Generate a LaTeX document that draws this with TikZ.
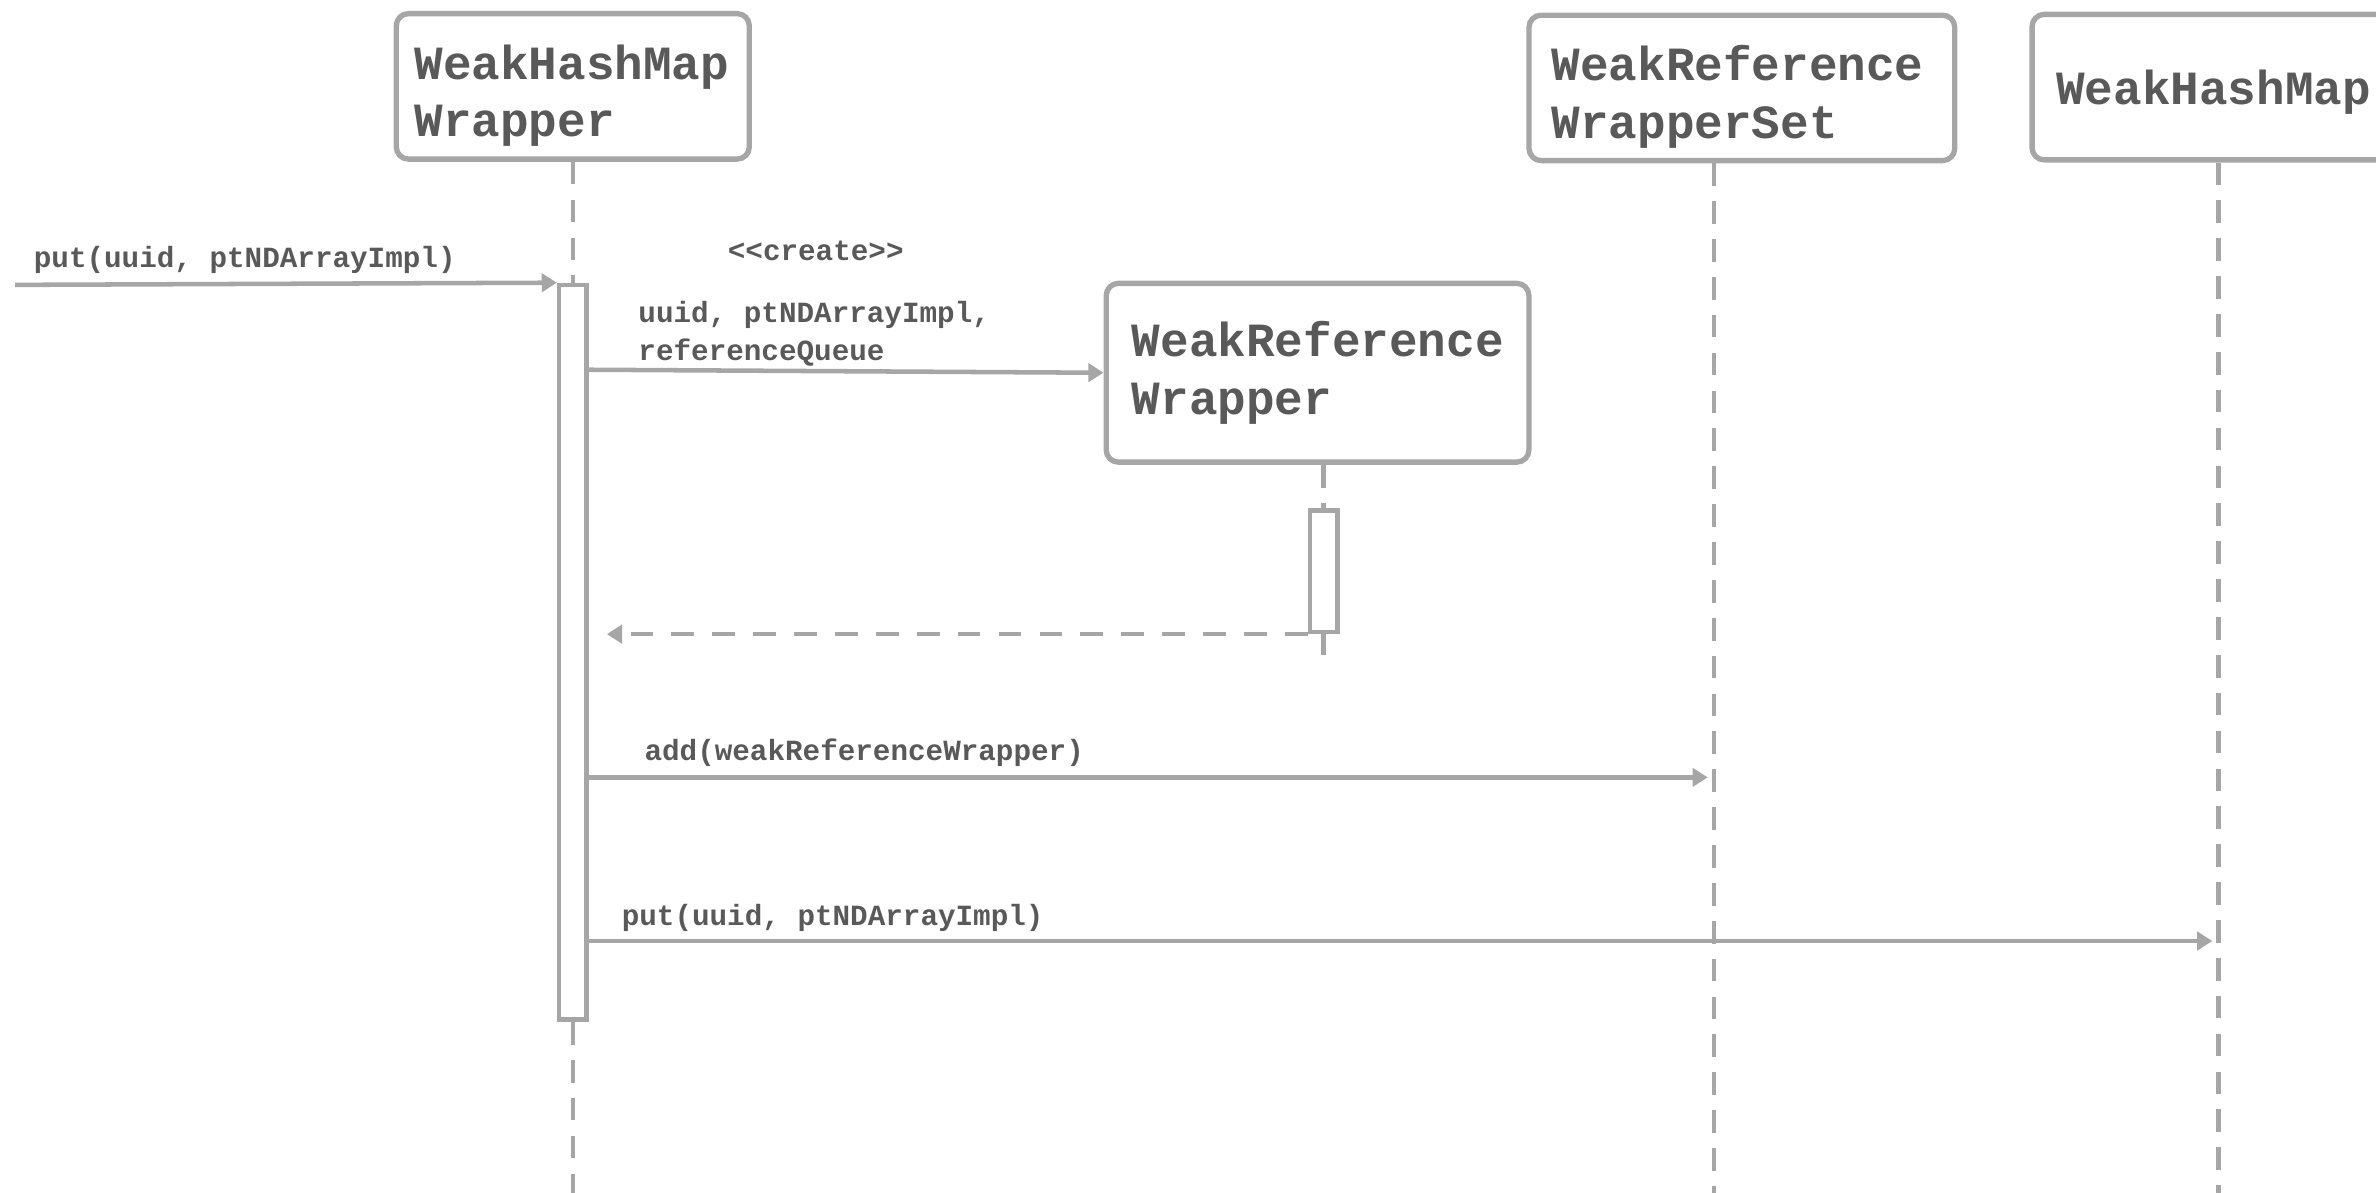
\documentclass[tikz,border=0pt]{standalone}
\usepackage{fontspec}
\setmonofont{Liberation Mono}
\usepackage{tikz}
\usetikzlibrary{arrows.meta, positioning}
\definecolor{seqgrey}{HTML}{A6A6A6}
\definecolor{seqtext}{HTML}{595959}
\newcommand{\objstrut}[1]{\rule{0pt}{#1}}

\begin{document}
\begin{tikzpicture}[x=0.02cm, y=-0.02cm,
  obj/.style={draw=seqgrey, line width=2pt, rounded corners=0.16cm, fill=white, text=seqtext, align=left,
    font=\ttfamily\bfseries\fontsize{17.9}{21.6}\selectfont, minimum height=1.92cm},
  act/.style={draw=seqgrey, line width=1.7pt, fill=white, minimum width=0.36cm, inner sep=0pt},
  life/.style={seqgrey, line width=1.7pt, dash pattern=on 0.3cm off 0.2cm},
  msg/.style={seqgrey, line width=1.7pt, -{Triangle[length=0.2cm, width=0.24cm]}},
  lbl/.style={text=seqtext, font=\ttfamily\bfseries\fontsize{11}{14.2}\selectfont, inner sep=0pt, align=left, anchor=west}]

\useasboundingbox (0,0) rectangle (1568,787);

% objects
\node[obj, inner xsep=0.24cm, text width=4.18cm] (whmw) at (378,57) {\objstrut{20pt}WeakHashMap\\Wrapper};
\node[obj, inner xsep=0.3cm, text width=5.02cm] (set) at (1149.5,58) {\objstrut{20pt}WeakReference\\WrapperSet};
\node[obj, inner xsep=0.32cm, text width=4.28cm] (whm) at (1464,57.5) {\objstrut{17pt}WeakHashMap};
\node[obj, inner xsep=0.34cm, text width=4.9cm, minimum height=2.36cm] (wrw) at (869.5,246) {WeakReference\\Wrapper};

% lifelines and activations
\coordinate (whmwend) at (378,787);
\coordinate (setend) at (1131,787);
\coordinate (whmend) at (1464,787);
\coordinate (wrwend) at (873.5,432);
\node[act, minimum height=9.7cm] (act1) at (378,430.5) {};
\node[act, minimum height=1.6cm] (act2) at (873.5,377) {};
\draw[life] (whmw.south) -- (act1.north);
\draw[life] (act1.south) -- (whmwend);
\draw[life] (act2.north |- wrw.south) -- (act2.north);
\draw[life] (act2.south) -- (wrwend);
\draw[life] (setend |- set.south) -- (setend);
\draw[life] (whm.south) -- (whmend);

% messages
\coordinate (caller) at (10,188);
\draw[msg] (caller) -- (act1.north west);
\node[lbl] (callput) at (22,171.5) {put(uuid, ptNDArrayImpl)};

\node[lbl] (create) at (480,165.5) {<<create>>};
\draw[msg] (act1.east |- 0,244) -- (wrw.west);
\node[lbl] (createargs) at (421,220.5) {uuid, ptNDArrayImpl,\\referenceQueue};

\draw[msg, dash pattern=on 0.3cm off 0.24cm, shorten >=0.24cm] (act2.south west) -- (act1.east |- act2.south west);

\draw[msg, shorten >=0.08cm] (act1.east |- 0,513) -- (setend |- 0,513);
\node[lbl] (add) at (425,496.5) {add(weakReferenceWrapper)};

\draw[msg, shorten >=0.08cm] (act1.east |- 0,621) -- (whmend |- 0,621);
\node[lbl] (put) at (410,605.5) {put(uuid, ptNDArrayImpl)};
\end{tikzpicture}
\end{document}
